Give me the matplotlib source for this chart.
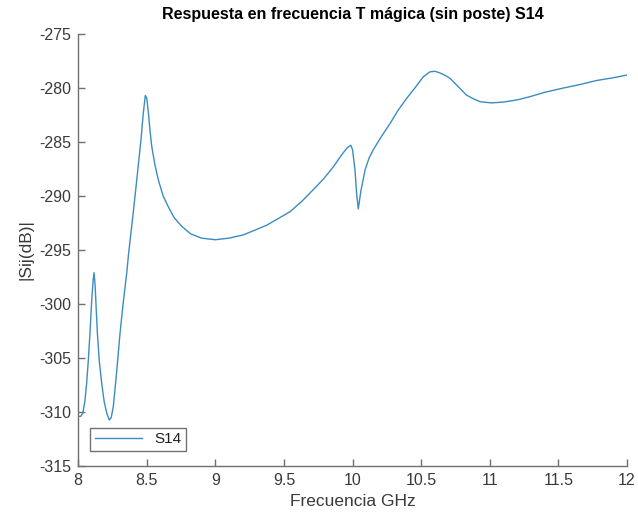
import matplotlib
matplotlib.use("Agg")
import matplotlib.pyplot as plt

plt.rcParams['font.family'] = ['Liberation Sans', 'DejaVu Sans']
plt.rcParams['axes.unicode_minus'] = False

# datos
freq = [8.0, 8.02, 8.035, 8.05, 8.063, 8.075, 8.087, 8.1, 8.11, 8.117, 8.125, 8.133,
        8.141, 8.155, 8.172, 8.19, 8.209, 8.228, 8.242, 8.257, 8.28, 8.306, 8.33,
        8.355, 8.367, 8.4, 8.428, 8.46, 8.475, 8.49, 8.5, 8.512, 8.525, 8.537, 8.56,
        8.585, 8.62, 8.658, 8.7, 8.755, 8.82, 8.9, 9.0, 9.1, 9.204, 9.3, 9.375, 9.45,
        9.545, 9.63, 9.715, 9.79, 9.86, 9.92, 9.96, 9.987, 10.0, 10.018, 10.03, 10.042,
        10.06, 10.091, 10.12, 10.152, 10.21, 10.273, 10.33, 10.395, 10.46, 10.516,
        10.565, 10.6, 10.636, 10.67, 10.71, 10.78, 10.83, 10.88, 10.93, 11.014,
        11.1, 11.2, 11.293, 11.4, 11.536, 11.65, 11.78, 11.9, 12.0]
s14 = [-310.4, -310.4, -310.1, -309.0, -307.3, -305.2, -302.7, -299.6, -297.8, -297.1,
       -298.4, -300.6, -302.7, -305.3, -307.3, -309.0, -310.1, -310.74, -310.5, -309.5,
       -306.5, -302.7, -299.8, -297.1, -295.5, -291.8, -288.5, -284.6, -282.4, -280.7,
       -280.9, -282.2, -284.0, -285.4, -287.1, -288.5, -290.0, -291.0, -292.0, -292.8,
       -293.5, -293.9, -294.05, -293.9, -293.6, -293.1, -292.7, -292.15, -291.45,
       -290.5, -289.4, -288.4, -287.3, -286.2, -285.55, -285.3, -285.7, -287.6, -289.8,
       -291.2, -289.6, -287.6, -286.5, -285.7, -284.5, -283.3, -282.1, -280.95,
       -279.9, -278.95, -278.5, -278.45, -278.6, -278.8, -279.1, -280.0, -280.65,
       -281.0, -281.27, -281.38, -281.3, -281.1, -280.8, -280.4, -280.0, -279.7,
       -279.3, -279.05, -278.8]

fig = plt.figure(figsize=(6.38, 5.2), dpi=100)
ax = fig.add_axes([0.1223, 0.1038, 0.8605, 0.8308])

ax.plot(freq, s14, color='#3b8cc2', linewidth=1.0, label='S14')

ax.set_xlim(8, 12)
ax.set_ylim(-315, -275)
ax.set_xticks([8, 8.5, 9, 9.5, 10, 10.5, 11, 11.5, 12])
ax.set_xticklabels(['8', '8.5', '9', '9.5', '10', '10.5', '11', '11.5', '12'])
ax.set_yticks(range(-315, -274, 5))

for s in ['top', 'right']:
    ax.spines[s].set_visible(False)
for s in ['left', 'bottom']:
    ax.spines[s].set_color('#707070')
    ax.spines[s].set_linewidth(1.0)
ax.tick_params(direction='in', length=5, width=1.0, color='#707070',
               labelcolor='#3a3a3a', labelsize=11.5, pad=5)

ax.set_title('Respuesta en frecuencia T mágica (sin poste) S14',
             fontsize=11.5, fontweight='bold', color='black', pad=11)
ax.set_xlabel('Frecuencia GHz', fontsize=12.5, color='#3a3a3a', labelpad=4)
ax.set_ylabel('|Sij(dB)|', fontsize=12.5, color='#3a3a3a', labelpad=4)

leg = ax.legend(loc='lower left', fontsize=11, frameon=True, fancybox=False,
                handlelength=3.1, borderaxespad=0, borderpad=0.3,
                bbox_to_anchor=(0.022, 0.035))
leg.get_frame().set_edgecolor('#505050')
leg.get_frame().set_linewidth(1.0)
for t in leg.get_texts():
    t.set_color('#222222')

fig.savefig('out.png', dpi=100)
